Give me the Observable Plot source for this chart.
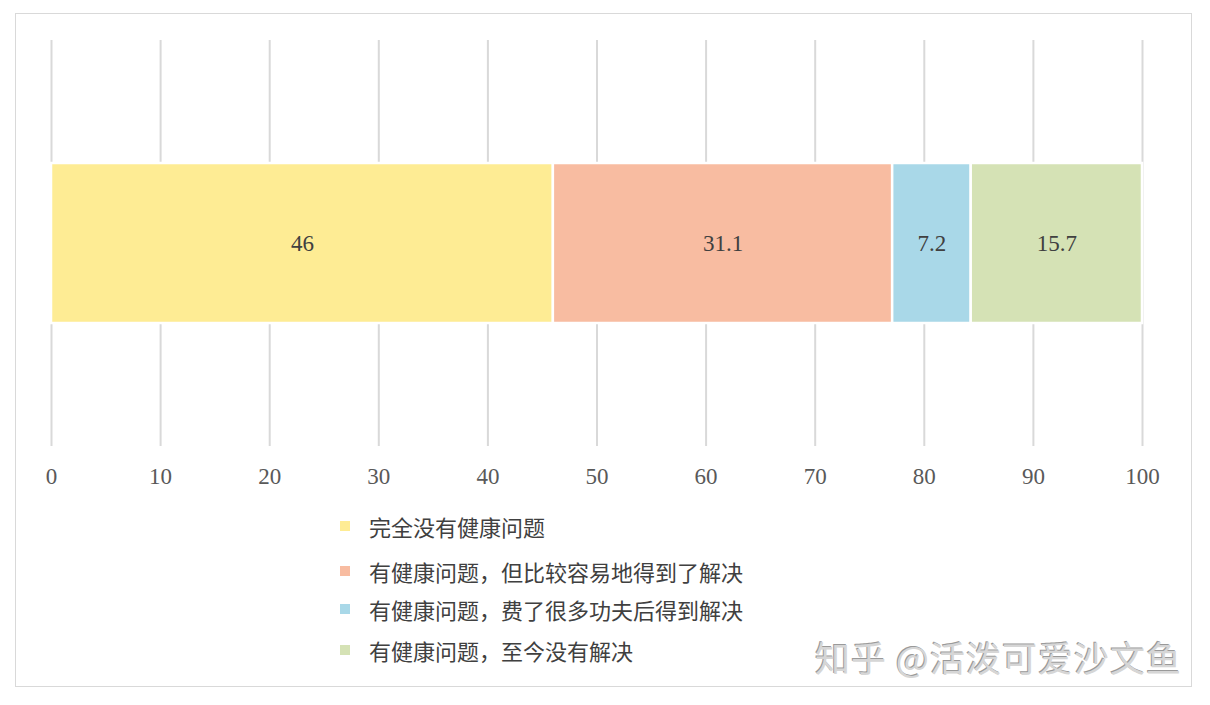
<!DOCTYPE html>
<html>
<head>
<meta charset="utf-8">
<script src="https://cdn.jsdelivr.net/npm/d3@7"></script>
<script src="https://cdn.jsdelivr.net/npm/@observablehq/plot@0.6"></script>
<style>
  body { margin: 0; background: #fff; }
  #wrap { position: relative; width: 1210px; height: 705px; overflow: hidden; }
  #frame { position: absolute; left: 15px; top: 13px; width: 1177px; height: 674px; border: 1.5px solid #d9d9d9; box-sizing: border-box; }
  #chart { position: absolute; left: 0; top: 0; }
  .leg { position: absolute; left: 340px; font-family: "Noto Sans CJK SC", sans-serif; font-size: 22px; color: #404040; white-space: nowrap; line-height: 1; }
  .leg .sw { display: inline-block; width: 10px; height: 10px; position: absolute; left: 0; top: 50%; transform: translateY(-50%); }
  .leg .lb { position: absolute; left: 29px; top: 50%; transform: translateY(-50%); }
  #wm { position: absolute; left: 815px; top: 631px; font-family: "Noto Sans CJK SC", sans-serif; font-size: 35px; color: #d6d6d6; text-shadow: -1px -1px 0 #9a9a9a; letter-spacing: 1px; white-space: nowrap; }
</style>
</head>
<body>
<div id="wrap">
  <div id="frame"></div>
  <div id="chart"></div>
  <div id="legend"></div>
  <div id="wm">知乎 @活泼可爱沙文鱼</div>
</div>
<script>
const categories = [
  "完全没有健康问题",
  "有健康问题，但比较容易地得到了解决",
  "有健康问题，费了很多功夫后得到解决",
  "有健康问题，至今没有解决"
];
const values = [46, 31.1, 7.2, 15.7];
const colors = ["#feec94", "#f8bca1", "#a9d8e8", "#d5e2b5"];
const xTicks = [0, 10, 20, 30, 40, 50, 60, 70, 80, 90, 100];
const legendTops = [526, 571, 609, 650];

const data = categories.map((c, i) => ({ row: "r", category: c, value: values[i] }));

const chart = Plot.plot({
  width: 1210,
  height: 500,
  marginLeft: 51,
  marginRight: 68,
  marginTop: 40,
  marginBottom: 54,
  style: { fontFamily: "'Liberation Serif', serif", background: "transparent" },
  x: { domain: [0, 100], label: null },
  y: { axis: null, padding: 0.4346 },
  color: { domain: categories, range: colors },
  marks: [
    Plot.gridX(xTicks, { stroke: "#d9d9d9", strokeOpacity: 1, strokeWidth: 2 }),
    Plot.axisX(xTicks, { tickSize: 0, tickPadding: 21, fontSize: 23, fill: "#595959", label: null, tickFormat: d => String(d) }),
    Plot.barX(data, Plot.stackX({ x: "value", y: "row", fill: "category", stroke: "white", strokeWidth: 2.5, order: null })),
    Plot.text(data, Plot.stackX({ x: "value", y: "row", text: d => String(d.value), fontSize: 23, fill: "#404040", order: null }))
  ]
});
document.getElementById("chart").appendChild(chart);

const legend = document.getElementById("legend");
categories.forEach((c, i) => {
  const row = document.createElement("div");
  row.className = "leg";
  row.style.top = legendTops[i] + "px";
  const sw = document.createElement("span");
  sw.className = "sw";
  sw.style.background = colors[i];
  const lb = document.createElement("span");
  lb.className = "lb";
  lb.textContent = c;
  row.appendChild(sw);
  row.appendChild(lb);
  legend.appendChild(row);
});
</script>
</body>
</html>
